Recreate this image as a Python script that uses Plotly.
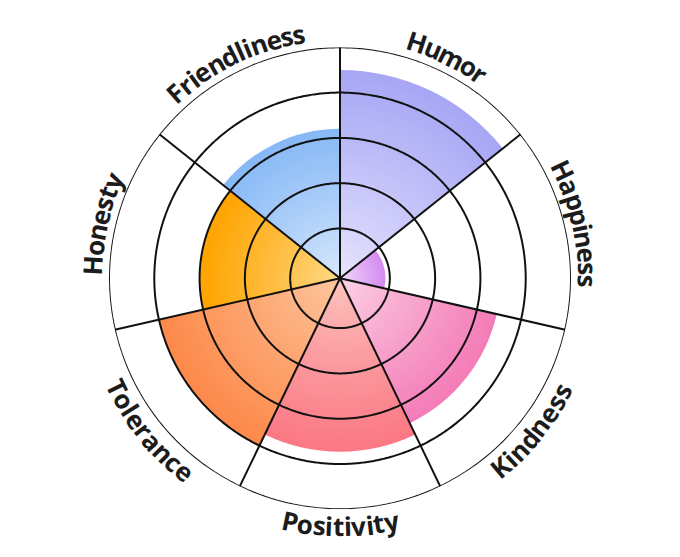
import math
import numpy as np
import plotly.graph_objects as go

# ---------------- data ----------------
categories = ["Humor", "Happiness", "Kindness", "Positivity", "Tolerance", "Honesty", "Friendliness"]
values = [4.5, 0.9, 3.45, 3.73, 4.0, 3.0, 3.2]
outer_colors = ["#a7a7f5", "#d48cf0", "#f47db8", "#fb7884", "#fd8a4b", "#ffa400", "#88b9f6"]
inner_colors = ["#ebe8fe", "#f3e2fc", "#fcd6e7", "#fcc8c2", "#fdcaa4", "#fedd90", "#dcebfd"]
ring_values = [1, 2, 3, 4, 5]

# ---------------- geometry / style ----------------
R_MIN, R_MAX = -0.1, 5
PAGE_OFF = 8                      # default page body margin
W, H = 680 - 2 * PAGE_OFF, 557 - 2 * PAGE_OFF
CX, CY, RAD = 340 - PAGE_OFF, 278.3 - PAGE_OFF, 231
n = len(categories)
sector = 360 / n
centers = [(i + 0.5) * sector for i in range(n)]
boundaries = [i * sector for i in range(n)]
GRID = "#111111"


def hex2rgb(h):
    h = h.lstrip("#")
    return [int(h[i:i + 2], 16) for i in (0, 2, 4)]


def mix(c1, c2, t):
    a, b = hex2rgb(c1), hex2rgb(c2)
    return "rgb(%d,%d,%d)" % tuple(round(a[k] + (b[k] - a[k]) * t) for k in range(3))


fig = go.Figure()

# gradient bars: drawn outer (full value) first, lighter shorter layers on top
N = 40
for j in range(N):
    frac = 1 - j / N
    t = frac ** 0.85
    fig.add_trace(go.Barpolar(
        r=[(v - R_MIN) * frac for v in values],
        base=[R_MIN] * n,
        theta=centers,
        width=[sector] * n,
        marker=dict(color=[mix(inner_colors[i], outer_colors[i], t) for i in range(n)],
                    line=dict(width=0)),
        hoverinfo="skip",
        showlegend=False,
    ))

# rings (drawn above bars)
th = np.linspace(0, 360, 721)
for rv in ring_values:
    fig.add_trace(go.Scatterpolar(
        r=[rv] * len(th), theta=th, mode="lines",
        line=dict(color=GRID, width=2), hoverinfo="skip",
        showlegend=False, cliponaxis=False))

# spokes
sr, st = [], []
for b in boundaries:
    sr += [R_MIN, R_MAX, None]
    st += [b, b, None]
fig.add_trace(go.Scatterpolar(
    r=sr, theta=st, mode="lines", line=dict(color=GRID, width=2),
    hoverinfo="skip", showlegend=False, cliponaxis=False))

# ---------------- curved labels ----------------
FS = 26
TRACK = 0.99
R_TXT = 248
cw = {"F": .572, "H": .755, "K": .664, "P": .632, "T": .576, "a": .590, "c": .505,
      "d": .619, "e": .586, "i": .297, "l": .297, "m": .936, "n": .627, "o": .604,
      "p": .619, "r": .437, "s": .488, "t": .420, "u": .627, "v": .562, "y": .562}

annotations = []
for i, lab in enumerate(categories):
    phi = 90 - centers[i]
    while phi <= -180:
        phi += 360
    while phi > 180:
        phi -= 360
    top = phi >= 0
    widths = [cw.get(ch, .6) * FS * TRACK for ch in lab]
    total = sum(widths)
    pos = -total / 2
    for ch, w in zip(lab, widths):
        s = pos + w / 2
        pos += w
        d = math.degrees(s / R_TXT)
        if top:
            pk = phi - d
            rot = 90 - pk
        else:
            pk = phi + d
            rot = -(pk + 90)
        x = CX + R_TXT * math.cos(math.radians(pk))
        y = CY - R_TXT * math.sin(math.radians(pk))
        annotations.append(dict(
            x=x / W, y=1 - y / H, xref="paper", yref="paper",
            text=ch, showarrow=False, textangle=rot,
            xanchor="center", yanchor="middle",
            font=dict(family="Open Sans", size=FS, color="#1c1c1c", weight=700)))

fig.update_layout(
    width=W, height=H,
    margin=dict(l=0, r=0, t=0, b=0),
    paper_bgcolor="white",
    showlegend=False,
    annotations=annotations,
    polar=dict(
        domain=dict(x=[(CX - RAD) / W, (CX + RAD) / W],
                    y=[(H - CY - RAD) / H, (H - CY + RAD) / H]),
        bgcolor="white",
        hole=0,
        radialaxis=dict(range=[R_MIN, R_MAX], showgrid=False, showticklabels=False,
                        showline=False, ticks=""),
        angularaxis=dict(rotation=90, direction="clockwise", showgrid=False,
                         showticklabels=False, showline=False, ticks="",
                         thetaunit="degrees"),
    ),
)

fig.write_html("out.html")
